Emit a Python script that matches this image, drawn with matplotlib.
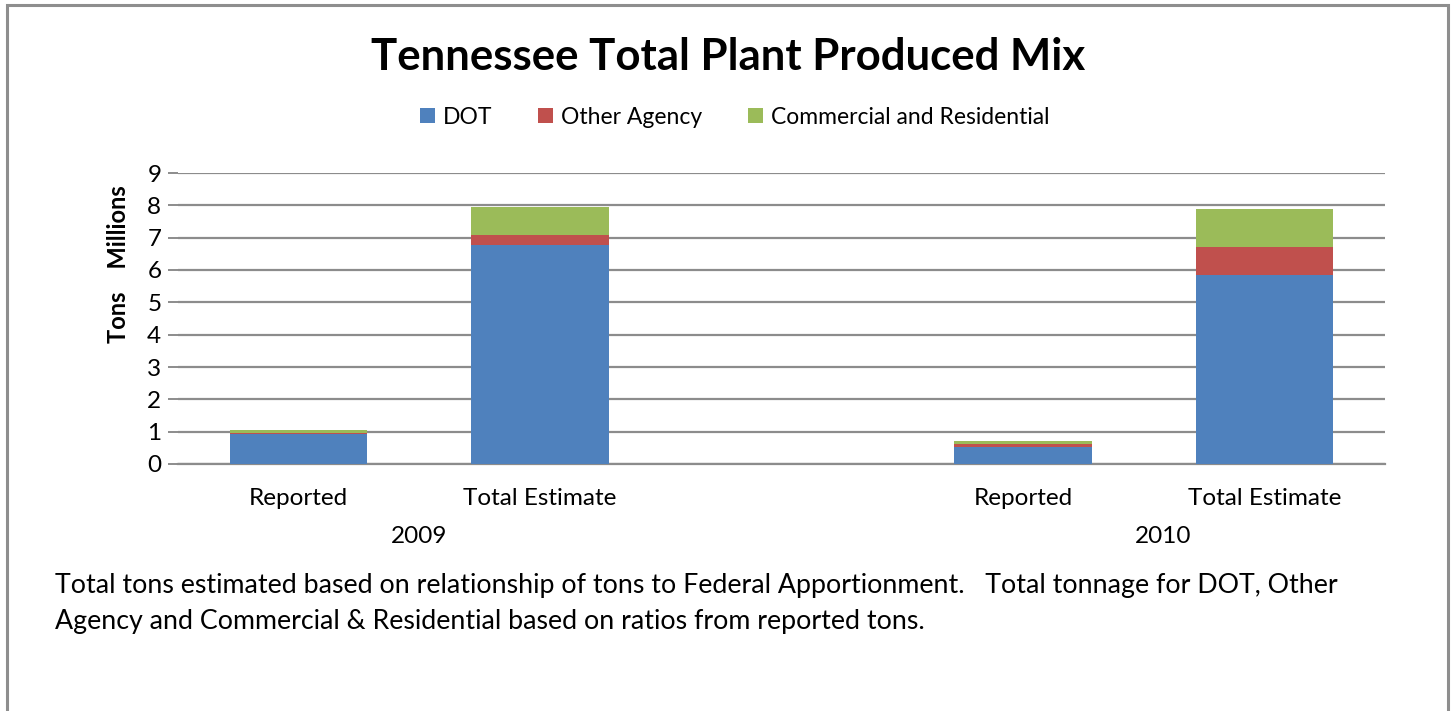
import numpy as np
import matplotlib
matplotlib.use("Agg")
import matplotlib.pyplot as plt
from matplotlib.patches import Rectangle

plt.rcParams['font.family'] = ['Lato', 'DejaVu Sans']

# data (millions of tons)
categories = ['Reported', 'Total Estimate', '', 'Reported', 'Total Estimate']
years = ['2009', '2010']
dot = [0.92, 6.78, 0, 0.54, 5.84]
other_agency = [0.04, 0.29, 0, 0.07, 0.87]
commercial = [0.09, 0.89, 0, 0.11, 1.17]
yticks = list(range(0, 10))

col_dot = '#4f81bd'
col_other = '#c0504d'
col_com = '#9bbb59'
grid_col = '#8c8c8c'

fig = plt.figure(figsize=(14.53, 7.11), dpi=100)

# outer chart frame
fig.patches.append(Rectangle((7 / 1453, -0.05), 1441 / 1453, 1.05 - 5 / 711,
                             transform=fig.transFigure, fill=False,
                             edgecolor='#8e8e8e', linewidth=2.2))

ax = fig.add_axes([178 / 1453, 1 - 464 / 711, 1207 / 1453, 291 / 711])

x = np.arange(len(categories))
w = 0.57
dot_a = np.array(dot)
oth_a = np.array(other_agency)
com_a = np.array(commercial)
ax.bar(x, dot_a, w, color=col_dot, label='DOT', zorder=3)
ax.bar(x, oth_a, w, bottom=dot_a, color=col_other, label='Other Agency', zorder=3)
ax.bar(x, com_a, w, bottom=dot_a + oth_a, color=col_com,
       label='Commercial and Residential', zorder=3)

ax.set_xlim(-0.5, len(categories) - 0.5)
ax.set_ylim(0, 9)
ax.set_yticks(yticks)
ax.yaxis.grid(True, color=grid_col, linewidth=1.6, zorder=0)
ax.set_axisbelow(True)
for s in ['top', 'right', 'left']:
    ax.spines[s].set_visible(False)
ax.spines['bottom'].set_color(grid_col)
ax.spines['bottom'].set_linewidth(1.6)
ax.tick_params(axis='y', length=7, width=1.4, color=grid_col, labelsize=17.5, pad=5)
ax.tick_params(axis='x', length=0, labelsize=17.5, pad=17)
ax.set_xticks(x)
ax.set_xticklabels(categories)

# year group labels
ax.text(0.5, -0.25, years[0], transform=ax.get_xaxis_transform(),
        ha='center', va='center', fontsize=17.5)
ax.text(3.58, -0.25, years[1], transform=ax.get_xaxis_transform(),
        ha='center', va='center', fontsize=17.5)

fig.text(118 / 1453, 1 - 264 / 711, 'Tons    Millions', rotation=90,
         ha='center', va='center', fontsize=17, fontweight='bold')

fig.text(728 / 1453, 1 - 57 / 711, 'Tennessee Total Plant Produced Mix',
         ha='center', va='center', fontsize=31.5, fontweight='bold')

fig.legend(loc='center', bbox_to_anchor=(735 / 1453, 1 - 117 / 711), ncol=3,
           frameon=False, fontsize=16.5, handlelength=0.65, handleheight=0.65,
           handletextpad=0.35, columnspacing=2.0)

fig.text(55 / 1453, 1 - 585 / 711,
         'Total tons estimated based on relationship of tons to Federal Apportionment.   '
         'Total tonnage for DOT, Other', ha='left', va='center', fontsize=19.3)
fig.text(55 / 1453, 1 - 621 / 711,
         'Agency and Commercial & Residential based on ratios from reported tons.',
         ha='left', va='center', fontsize=19.3)

fig.savefig('out.png', dpi=100)
